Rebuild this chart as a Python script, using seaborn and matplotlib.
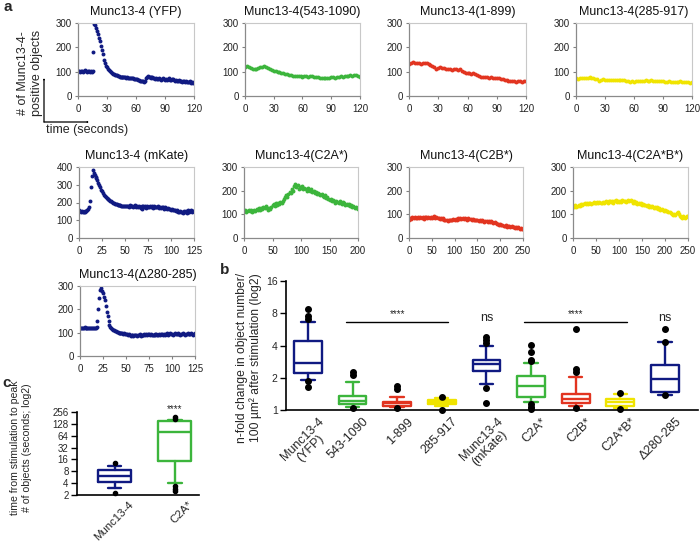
import numpy as np
import matplotlib
matplotlib.use("Agg")
import matplotlib.pyplot as plt
import matplotlib.transforms as mtrans
import seaborn as sns

sns.set_style("white")
plt.rcParams["font.family"] = ["Liberation Sans", "DejaVu Sans"]

BLUE = "#101a82"
GREEN = "#3cb53c"
RED = "#e23420"
YELLOW = "#f0e400"

# ---------------- panel a: time courses -------------
yfp_vals = [103, 102, 100, 104, 101, 100, 103, 105, 102, 99,
            101, 104, 100, 102, 100, 101, 182, 295, 290, 280,
            268, 255, 240, 225, 205, 190, 172, 150, 135, 125,
            118, 112, 108, 103, 98, 95, 92, 90, 88, 86,
            85, 83, 82, 80, 80, 79, 78, 78, 77, 77,
            76, 78, 76, 74, 75, 73, 72, 74, 71, 70,
            70, 68, 66, 64, 62, 63, 60, 62, 58, 61,
            75, 80, 82, 78, 80, 77, 75, 78, 74, 72,
            70, 73, 71, 68, 72, 70, 67, 69, 72, 68,
            66, 70, 65, 68, 72, 66, 64, 68, 70, 64,
            62, 66, 60, 63, 67, 61, 60, 63, 58, 62,
            60, 57, 61, 59, 56, 58, 60, 55, 57, 54,
            56]
c543_vals = [120, 122, 119, 117, 112, 110, 112, 115, 118, 121,
             123, 120, 116, 112, 108, 104, 102, 99, 97, 95,
             93, 91, 89, 87, 85, 84, 83, 82, 84, 82,
             80, 81, 83, 80, 82, 81, 79, 80, 78, 76,
             75, 74, 75, 76, 74, 77, 78, 76, 80, 79,
             82, 80, 82, 84, 83, 85, 84, 86, 85, 83,
             80]
c1_899_vals = [132, 136, 138, 134, 137, 135, 133, 136, 134, 135,
               133, 128, 122, 118, 112, 116, 118, 114, 116, 112,
               110, 112, 108, 110, 109, 106, 110, 104, 100, 96,
               94, 96, 92, 94, 90, 86, 84, 80, 78, 80,
               78, 76, 78, 75, 76, 74, 72, 70, 68, 66,
               64, 62, 60, 61, 60, 58, 60, 61, 59, 60,
               60]
c285_vals = [72, 71, 73, 74, 73, 75, 76, 77, 75, 72,
             70, 68, 62, 66, 68, 66, 65, 64, 66, 65,
             64, 66, 65, 67, 66, 64, 62, 60, 58, 60,
             59, 60, 62, 63, 62, 63, 64, 63, 62, 64,
             63, 62, 61, 60, 62, 60, 59, 58, 60, 59,
             58, 57, 58, 59, 60, 58, 59, 57, 58, 55,
             56]
mkate_vals = [155, 150, 148, 152, 145, 147, 150, 146, 152, 158,
              162, 175, 210, 290, 350, 382, 365, 355, 345, 340,
              325, 310, 300, 285, 270, 262, 255, 245, 238, 232,
              228, 222, 218, 212, 210, 206, 202, 198, 196, 194,
              192, 190, 188, 186, 185, 184, 182, 180, 182, 178,
              180, 183, 178, 181, 176, 185, 180, 178, 182, 176,
              180, 184, 177, 179, 175, 182, 172, 168, 178, 165,
              182, 175, 179, 170, 181, 176, 172, 180, 174, 178,
              170, 176, 182, 174, 177, 172, 178, 170, 176, 168,
              175, 172, 166, 170, 174, 168, 165, 170, 162, 166,
              160, 164, 158, 155, 160, 152, 150, 155, 148, 145,
              150, 144, 148, 142, 150, 146, 152, 140, 148, 155,
              145, 150, 158, 148, 152, 150]
c2a_vals = [112, 118, 110, 115, 120, 113, 118, 110, 116, 120,
            114, 122, 118, 125, 120, 128, 124, 132, 128, 135,
            125, 120, 127, 122, 130, 138, 142, 136, 146, 140,
            150, 145, 152, 148, 158, 165, 172, 180, 175, 188,
            195, 190, 205, 200, 218, 230, 215, 222, 208, 215,
            210, 218, 205, 212, 208, 200, 210, 203, 198, 205,
            195, 200, 190, 196, 188, 192, 185, 180, 186, 178,
            174, 180, 168, 172, 165, 160, 166, 158, 162, 155,
            150, 158, 152, 148, 155, 150, 145, 152, 146, 140,
            144, 138, 142, 135, 140, 132, 136, 128, 132, 125,
            122]
c2b_vals = [78, 85, 82, 88, 84, 90, 86, 83, 88, 85,
            90, 84, 88, 82, 87, 90, 85, 88, 84, 90,
            86, 88, 92, 85, 88, 84, 86, 82, 85, 80,
            83, 78, 75, 78, 72, 76, 74, 78, 75, 80,
            77, 82, 78, 84, 80, 86, 82, 84, 80, 86,
            82, 78, 84, 80, 82, 78, 80, 75, 78, 74,
            76, 72, 75, 70, 74, 72, 68, 72, 70, 66,
            70, 68, 72, 66, 64, 67, 62, 58, 60, 56,
            58, 54, 56, 52, 50, 54, 48, 52, 50, 46,
            50, 45, 48, 44, 46, 42, 45, 40, 43, 38,
            40]
c2ab_vals = [135, 130, 138, 132, 136, 140, 134, 142, 138, 145,
             150, 144, 148, 142, 146, 150, 144, 148, 152, 146,
             150, 154, 148, 152, 146, 150, 154, 148, 152, 156,
             150, 155, 158, 152, 156, 150, 155, 160, 153, 157,
             152, 158, 154, 160, 155, 158, 152, 156, 160, 155,
             162, 156, 150, 155, 148, 152, 145, 150, 142, 146,
             140, 144, 138, 140, 135, 138, 132, 136, 130, 134,
             128, 132, 125, 130, 122, 126, 120, 124, 118, 114,
             118, 112, 115, 108, 110, 104, 100, 96, 102, 98,
             104, 108, 100, 94, 90, 86, 92, 84, 88, 92,
             95]
d280_vals = [118, 120, 122, 119, 121, 123, 120, 118, 122, 121,
             119, 120, 122, 118, 120, 121, 119, 122, 125, 150,
             200, 250, 285, 292, 280, 270, 255, 240, 215, 190,
             170, 150, 135, 125, 120, 115, 112, 110, 108, 106,
             104, 102, 100, 100, 98, 99, 97, 96, 98, 95,
             94, 96, 92, 93, 90, 86, 92, 88, 85, 90,
             88, 92, 86, 90, 88, 93, 87, 90, 92, 88,
             95, 90, 94, 92, 96, 93, 90, 94, 91, 88,
             92, 95, 90, 93, 88, 92, 95, 90, 93, 96,
             92, 94, 90, 96, 93, 97, 92, 95, 98, 94,
             96, 92, 95, 98, 94, 96, 93, 97, 95, 92,
             96, 94, 98, 95, 92, 96, 94, 97, 93, 96,
             94, 98, 95, 92, 96, 97]

ts_titles = ["Munc13-4 (YFP)", "Munc13-4(543-1090)", "Munc13-4(1-899)", "Munc13-4(285-917)",
             "Munc13-4 (mKate)", "Munc13-4(C2A*)", "Munc13-4(C2B*)", "Munc13-4(C2A*B*)",
             "Munc13-4(\u0394280-285)"]
ts_values = [yfp_vals, c543_vals, c1_899_vals, c285_vals,
             mkate_vals, c2a_vals, c2b_vals, c2ab_vals, d280_vals]
ts_steps = [1, 2, 2, 2, 1, 2, 2.5, 2.5, 1]
ts_colors = [BLUE, GREEN, RED, YELLOW, BLUE, GREEN, RED, YELLOW, BLUE]
ts_xticks = [[0, 30, 60, 90, 120]] * 4 + [[0, 25, 50, 75, 100, 125], [0, 50, 100, 150, 200],
             [0, 50, 100, 150, 200, 250], [0, 50, 100, 150, 200, 250], [0, 25, 50, 75, 100, 125]]
ts_yticks = [[0, 100, 200, 300]] * 4 + [[0, 100, 200, 300, 400]] + [[0, 100, 200, 300]] * 4
# pixel rectangles (left, right, top, bottom)
ts_rects = [(78, 194, 23, 96), (245, 360, 23, 96), (409, 526, 23, 96), (576, 692, 23, 96),
            (79, 194, 167, 238), (244, 358, 167, 238), (409, 523, 167, 238), (573, 688, 167, 238),
            (80, 195, 286, 356)]

# ---------------- panel b: box statistics (log2 axis) --------------------------
b_labels = ["Munc13-4\n(YFP)", "543-1090", "1-899", "285-917", "Munc13-4\n(mKate)",
            "C2A*", "C2B*", "C2A*B*", "\u0394280-285"]
b_colors = [BLUE, GREEN, RED, YELLOW, BLUE, GREEN, RED, YELLOW, BLUE]
b_med = [2.72, 1.22, 1.15, 1.18, 2.68, 1.67, 1.28, 1.18, 1.96]
b_q1 = [2.20, 1.13, 1.10, 1.13, 2.32, 1.33, 1.16, 1.09, 1.46]
b_q3 = [4.38, 1.35, 1.20, 1.24, 2.96, 2.07, 1.41, 1.27, 2.62]
b_wlo = [1.92, 1.07, 1.06, 1.09, 1.73, 1.20, 1.08, 1.05, 1.38]
b_whi = [6.60, 1.81, 1.33, 1.30, 4.00, 2.76, 2.04, 1.41, 4.33]
b_fliers = [[8.7, 7.5, 7.0, 1.88, 1.65], [2.24, 2.12, 1.04], [1.66, 1.56, 1.04], [1.31, 1.01],
            [4.8, 4.5, 4.2, 1.61, 1.15], [4.08, 3.45, 2.96, 2.88, 1.14, 1.07, 1.02],
            [5.7, 2.39, 2.27, 1.05], [1.45, 1.03], [5.7, 4.35, 1.37]]
b_yticks = [1, 2, 4, 8, 16]

# ---------------- panel c ----------------------------------------------------
c_labels = ["Munc13-4", "C2A*"]
c_colors = [BLUE, GREEN]
c_med = [6.2, 78]
c_q1 = [4.4, 14.7]
c_q3 = [8.7, 148]
c_wlo = [3.07, 4.1]
c_whi = [11.0, 164]
c_fliers = [[12.8, 2.2], [191, 172, 3.3, 2.9, 2.6]]
c_yticks = [2, 4, 8, 16, 32, 64, 128, 256]

W, H = 700, 543
fig = plt.figure(figsize=(W / 100, H / 100), dpi=100)


def add_ax(l, r, t, b):
    return fig.add_axes([l / W, 1 - b / H, (r - l) / W, (b - t) / H])


def fx(x):
    return x / W


def fy(y):
    return 1 - y / H


# ---- panel a
for title, vals, step, col, xt, yt, rect in zip(ts_titles, ts_values, ts_steps, ts_colors,
                                                 ts_xticks, ts_yticks, ts_rects):
    ax = add_ax(*rect)
    t = np.arange(len(vals)) * step
    sns.scatterplot(x=t, y=vals, ax=ax, color=col, s=8, linewidth=0, legend=False)
    ax.set_xlim(xt[0], xt[-1])
    ax.set_ylim(yt[0], yt[-1])
    ax.set_xticks(xt)
    ax.set_yticks(yt)
    ax.tick_params(axis="both", labelsize=7, length=2.5, width=0.8, color="#808080",
                   labelcolor="#222222", pad=2, direction="out")
    ax.tick_params(axis="x", pad=3)
    ax.tick_params(bottom=True, left=True)
    for s in ["left", "bottom"]:
        ax.spines[s].set_color("#8a8a8a")
        ax.spines[s].set_linewidth(0.9)
    for s in ["top", "right"]:
        ax.spines[s].set_color("#c8c8c8")
        ax.spines[s].set_linewidth(0.8)
    ax.set_title(title, fontsize=9, pad=6, color="#111111")
    ax.set_xlabel("")
    ax.set_ylabel("")

fig.text(fx(3), fy(7), "a", fontsize=11, fontweight="bold", va="center", ha="left")
fig.text(fx(30), fy(73), "# of Munc13-4-\npositive objects", rotation=90, fontsize=9,
         ha="center", va="center", linespacing=1.15)
arrow_kw = dict(arrowstyle="-|>,head_length=0.35,head_width=0.18", lw=0.9, color="black",
                shrinkA=0, shrinkB=0)
fig.add_artist(matplotlib.patches.FancyArrowPatch((fx(44), fy(122)), (fx(44), fy(78)),
                                                  transform=fig.transFigure, **arrow_kw))
fig.add_artist(matplotlib.patches.FancyArrowPatch((fx(44), fy(122)), (fx(89), fy(122)),
                                                  transform=fig.transFigure, **arrow_kw))
fig.text(fx(46), fy(130), "time (seconds)", fontsize=9, ha="left", va="center")


def draw_boxes(ax, labels, colors, med, q1, q3, wlo, whi, fliers, width, capw, fs):
    for i in range(len(labels)):
        st = [dict(med=med[i], q1=q1[i], q3=q3[i], whislo=wlo[i], whishi=whi[i],
                   fliers=fliers[i], label=labels[i])]
        lp = dict(color=colors[i], linewidth=1.7)
        ax.bxp(st, positions=[i], widths=width, capwidths=capw, showfliers=True,
               boxprops=lp, whiskerprops=lp, capprops=lp, medianprops=lp,
               flierprops=dict(marker="o", markerfacecolor="black", markeredgecolor="black",
                               markersize=fs, clip_on=False), manage_ticks=False)


# ---- panel b
axb = add_ax(286, 698, 281, 410)
axb.set_yscale("log", base=2)
draw_boxes(axb, b_labels, b_colors, b_med, b_q1, b_q3, b_wlo, b_whi, b_fliers, 0.62, 0.3, 4)
axb.set_ylim(1, 16)
axb.set_xlim(-0.49, 8.74)
axb.set_yticks(b_yticks)
axb.set_yticklabels([str(v) for v in b_yticks])
axb.yaxis.set_minor_locator(matplotlib.ticker.NullLocator())
axb.tick_params(axis="y", labelsize=7.5, length=4, width=1, color="black", pad=2, left=True)
axb.tick_params(axis="x", length=0, pad=2)
sns.despine(ax=axb)
for s in ["left", "bottom"]:
    axb.spines[s].set_linewidth(1.2)
    axb.spines[s].set_color("black")
axb.set_xticks(range(len(b_labels)))
axb.set_xticklabels(b_labels, rotation=45, ha="right", va="top", rotation_mode="anchor",
                    fontsize=9, linespacing=1.0, multialignment="center")
off = mtrans.ScaledTranslation(0.1, -0.03, fig.dpi_scale_trans)
for lab in axb.get_xticklabels():
    lab.set_transform(lab.get_transform() + off)
# significance annotations
axb.plot([0.85, 3.14], [6.6, 6.6], color="black", lw=1)
axb.plot([4.84, 7.15], [6.6, 6.6], color="black", lw=1)
axb.text(2.0, 7.0, "****", ha="center", va="bottom", fontsize=7)
axb.text(6.0, 7.0, "****", ha="center", va="bottom", fontsize=7)
axb.text(4.0, 7.2, "ns", ha="center", va="center", fontsize=9)
axb.text(8.0, 7.2, "ns", ha="center", va="center", fontsize=9)
fig.text(fx(220), fy(270), "b", fontsize=11, fontweight="bold", va="center", ha="left")
fig.text(fx(249), fy(358), "n-fold change in object number/\n100 \u00b5m\u00b2 after stimulation (log2)",
         rotation=90, fontsize=8.7, ha="center", va="center", linespacing=1.05)

# ---- panel c
axc = add_ax(77, 199, 412, 495)
axc.set_yscale("log", base=2)
draw_boxes(axc, c_labels, c_colors, c_med, c_q1, c_q3, c_wlo, c_whi, c_fliers, 0.55, 0.22, 3)
axc.set_ylim(2, 256)
axc.set_xlim(-0.63, 1.4)
axc.set_yticks(c_yticks)
axc.set_yticklabels([str(v) for v in c_yticks])
axc.yaxis.set_minor_locator(matplotlib.ticker.NullLocator())
axc.tick_params(axis="y", labelsize=7, length=4, width=1, color="black", pad=2, left=True)
axc.tick_params(axis="x", length=0, pad=2)
sns.despine(ax=axc)
for s in ["left", "bottom"]:
    axc.spines[s].set_linewidth(1.2)
    axc.spines[s].set_color("black")
axc.set_xticks(range(len(c_labels)))
axc.set_xticklabels(c_labels, rotation=45, ha="right", va="top", rotation_mode="anchor",
                    fontsize=8.2)
offc = mtrans.ScaledTranslation(0.13, -0.015, fig.dpi_scale_trans)
for lab in axc.get_xticklabels():
    lab.set_transform(lab.get_transform() + offc)
axc.text(1.0, 300, "****", ha="center", va="center", fontsize=7)
fig.text(fx(2), fy(383), "c", fontsize=11, fontweight="bold", va="center", ha="left")
fig.text(fx(21), fy(448), "time from stimulation to peak\n# of objects (seconds; log2)",
         rotation=90, fontsize=7.6, ha="center", va="center", linespacing=1.2)

fig.savefig("out.png", dpi=100)
